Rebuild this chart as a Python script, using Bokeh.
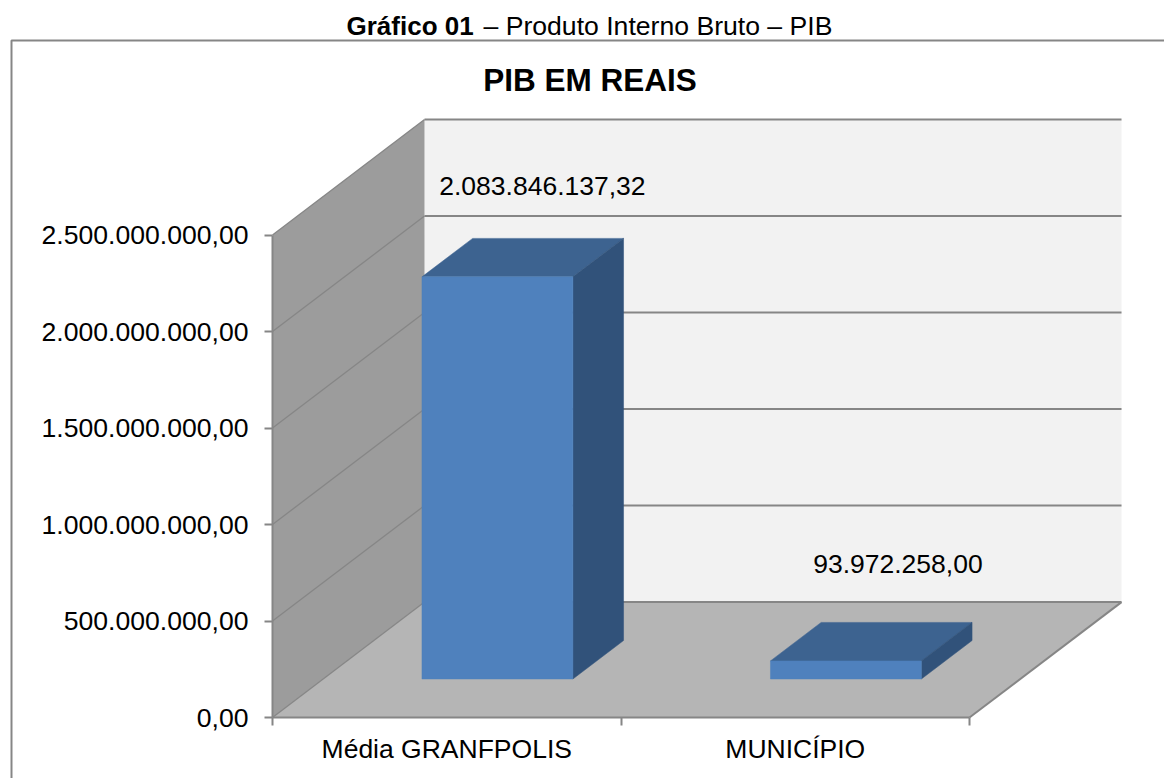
from bokeh.embed import file_html
from bokeh.resources import INLINE
from bokeh.models import (ColumnDataSource, Range1d, FixedTicker, LinearAxis, Label, BoxAnnotation)
from bokeh.plotting import figure
from bokeh.core.properties import value

categories = ["Média GRANFPOLIS", "MUNICÍPIO"]
pib_values = [2083846137.32, 93972258.00]
value_labels = ["2.083.846.137,32", "93.972.258,00"]
tick_values = [0, 500000000, 1000000000, 1500000000, 2000000000, 2500000000]
tick_labels = ["0,00", "500.000.000,00", "1.000.000.000,00", "1.500.000.000,00",
               "2.000.000.000,00", "2.500.000.000,00"]
chart_title = "PIB EM REAIS"
caption_bold = "Gráfico 01"
caption_rest = "– Produto Interno Bruto – PIB"

# 3D projection of the chart box, in axis units
DX = 0.4362
DY = 5.98e8
BAR_W = 0.433
YMAX = tick_values[-1]
NCAT = len(categories)

FONT = "Liberation Sans"
EDGE = "#868686"
INK = "#000000"

W, H = 1164, 778
X0, Y0 = 272, 717    # page position of the axis origin
xu = 348.5           # px per category
yu = 482.5 / YMAX    # px per value unit


def sy(py):
    return H - py


p = figure(width=W, height=H, output_backend="svg", toolbar_location=None,
           x_range=Range1d(-X0 / xu, (W - X0) / xu), y_range=Range1d(-(H - Y0) / yu, Y0 / yu),
           x_axis_type=None, y_axis_type=None,
           min_border=0, min_border_left=0, min_border_right=0, min_border_top=0, min_border_bottom=0,
           background_fill_color="white", border_fill_color="white",
           outline_line_color=None)
p.grid.visible = False

# walls and floor
p.patch([DX, DX + NCAT, DX + NCAT, DX], [DY, DY, YMAX + DY, YMAX + DY], fill_color="#f2f2f2", line_color=None)
p.patch([0, DX, DX, 0], [0, DY, YMAX + DY, YMAX], fill_color="#9c9c9c", line_color=None)
p.patch([0, NCAT, NCAT + DX, DX], [0, 0, DY, DY], fill_color="#b5b5b5", line_color=None)

# gridlines on the back wall and the side wall
for t in tick_values:
    p.line([DX, DX + NCAT], [t + DY, t + DY], line_color=EDGE, line_width=2)
    p.line([0, DX], [t, t + DY], line_color=EDGE, line_width=1.3)
p.line([NCAT, NCAT + DX], [0, DY], line_color=EDGE, line_width=2)

# bars
gap = (1 - BAR_W) / 2
x0 = [i + gap + DX / 3 for i in range(NCAT)]
x1 = [a + BAR_W for a in x0]
y0 = [DY / 3] * NCAT
y1 = [DY / 3 + v for v in pib_values]
ddx, ddy = DX / 3, DY / 3
p.patches([[a, b, b + ddx, a + ddx] for a, b in zip(x0, x1)],
          [[t, t, t + ddy, t + ddy] for t in y1], fill_color="#3d6390", line_color="#3d6390", line_width=0.5)
p.patches([[b, b + ddx, b + ddx, b] for b in x1],
          [[u, u + ddy, t + ddy, t] for u, t in zip(y0, y1)], fill_color="#31527a", line_color="#31527a", line_width=0.5)
p.quad(left=x0, right=x1, bottom=y0, top=y1, fill_color="#4f81bd", line_color="#4f81bd", line_width=0.5)

# value labels
src = ColumnDataSource(dict(x=[(a + b) / 2 for a, b in zip(x0, x1)], y=y1, t=value_labels,
                            xo=[45, 52], yo=[-91, -97]))
p.text(x="x", y="y", text="t", source=src, x_offset="xo", y_offset="yo",
       text_font=value(FONT), text_font_size="26.5px", text_color=INK,
       text_align="center", text_baseline="middle")

# axes, held at the origin inside the frame
yax = LinearAxis(ticker=FixedTicker(ticks=tick_values), fixed_location=0,
                 major_label_overrides=dict(zip(tick_values, tick_labels)),
                 bounds=(0, YMAX), axis_line_color=EDGE, axis_line_width=2,
                 major_tick_line_color=EDGE, major_tick_line_width=2, major_tick_in=0, major_tick_out=8,
                 minor_tick_out=0, minor_tick_in=0, major_label_standoff=16,
                 major_label_text_font=FONT, major_label_text_font_size="26.6px",
                 major_label_text_color=INK)
p.add_layout(yax, "left")
centers = [i + 0.5 for i in range(NCAT)]
xax = LinearAxis(ticker=FixedTicker(ticks=centers, minor_ticks=list(range(NCAT + 1))), fixed_location=0,
                 major_label_overrides=dict(zip(centers, categories)),
                 bounds=(0, NCAT), axis_line_color=EDGE, axis_line_width=2,
                 major_tick_in=0, major_tick_out=0, minor_tick_in=0, minor_tick_out=8,
                 minor_tick_line_color=EDGE, minor_tick_line_width=2, major_label_standoff=8,
                 major_label_text_font=FONT, major_label_text_font_size="26.5px",
                 major_label_text_color=INK)
p.add_layout(xax, "below")

# outer chart frame and titles
p.add_layout(BoxAnnotation(left=11, right=W + 20, top=sy(40), bottom=-20,
                           left_units="screen", right_units="screen",
                           top_units="screen", bottom_units="screen",
                           fill_alpha=0, line_color=EDGE, line_alpha=1, line_width=2))
p.add_layout(Label(x=346, y=sy(25), x_units="screen", y_units="screen", text=caption_bold,
                   text_font=FONT, text_font_style="bold", text_font_size="26px",
                   text_color=INK, text_align="left", text_baseline="middle"))
p.add_layout(Label(x=483, y=sy(25), x_units="screen", y_units="screen", text=caption_rest,
                   text_font=FONT, text_font_size="26.6px",
                   text_color=INK, text_align="left", text_baseline="middle"))
p.add_layout(Label(x=589.5, y=sy(79), x_units="screen", y_units="screen", text=chart_title,
                   text_font=FONT, text_font_style="bold", text_font_size="31.5px",
                   text_color=INK, text_align="center", text_baseline="middle"))

open("out.html", "w").write(file_html(p, INLINE))
